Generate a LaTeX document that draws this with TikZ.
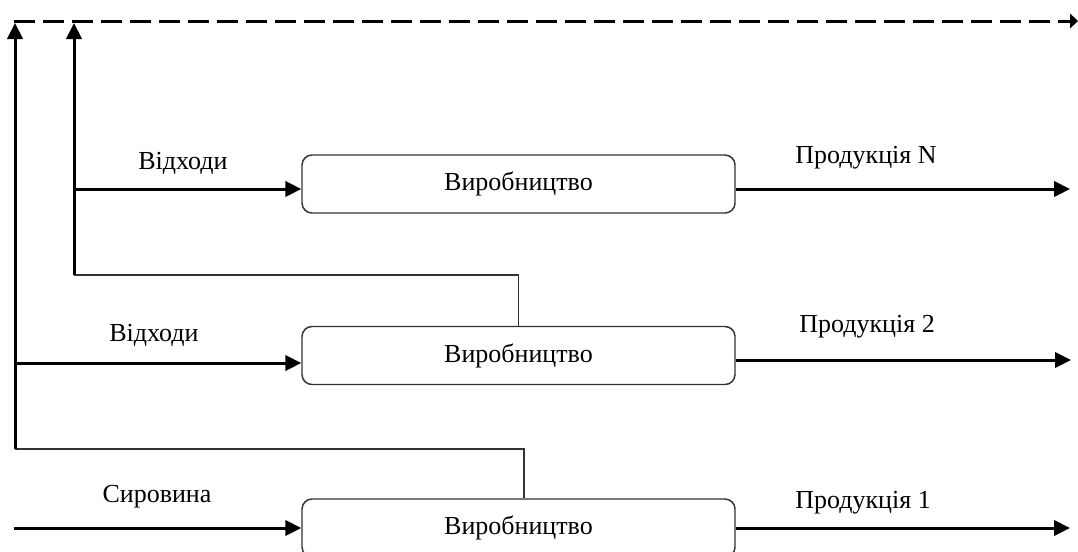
\documentclass[tikz,border=0pt]{standalone}
\usepackage{fontspec}
\setmainfont{Liberation Serif}
\usetikzlibrary{arrows.meta}
\begin{document}
\begin{tikzpicture}[x=0.75pt,y=-0.75pt,
  stage/.style={draw=black!80,line width=1.1pt,rounded corners=7.5pt,
    minimum width=324.75pt,minimum height=43.5pt,inner sep=0pt,
    font=\fontsize{19.5}{23}\selectfont},
  lbl/.style={font=\fontsize{19.5}{23}\selectfont,inner sep=0pt},
  flow/.style={line width=2.25pt,-{Triangle[length=12pt,width=11.5pt]}},
  thin line/.style={line width=1.1pt,draw=black!80},
  waste/.style={line width=2.25pt,dash pattern=on 15.75pt off 6pt,-{Triangle[length=6pt,width=11pt]}}]
\useasboundingbox (0,0) rectangle (1078,551);

% stages
\node[stage] (b1) at (518.5,184) {Виробництво};
\node[stage] (b2) at (518.5,355.5) {Виробництво};
\node[stage] (b3) at (518.5,528) {Виробництво};

% free ends
\coordinate (in3) at (14,528);
\coordinate (o3) at (1070,528);
\coordinate (o2) at (1071,360);
\coordinate (o1) at (1070,189);
\coordinate (h3) at (15,449);
\coordinate (t3) at (15,23);
\coordinate (r2) at (15,363);
\coordinate (h2) at (74,275);
\coordinate (t2) at (74,23);
\coordinate (r1) at (74,189);
\coordinate (d0) at (14,21);
\coordinate (d1) at (1078,21);

% top dashed line
\draw[waste] (d0) -- (d1);

% stage 1
\draw[flow] (in3) -- (b3.west);
\draw[flow] (b3.east) -- (o3);
\node[lbl] at (157,497) {Сировина};
\node[lbl] at (863,503) {Продукція 1};
\draw[thin line] ([xshift=4.1pt]b3.north) -- ([xshift=4.1pt]b3.north |- h3) -- (h3);
\draw[flow] (h3) -- (t3);
\draw[flow] (r2) -- (r2 -| b2.west);

% stage 2
\draw[flow] (b2.east |- o2) -- (o2);
\node[lbl] at (154,335) {Відходи};
\node[lbl] at (867,327) {Продукція 2};
\draw[thin line] (b2.north) -- (b2.north |- h2) -- (h2);
\draw[flow] (h2) -- (t2);
\draw[flow] (r1) -- (r1 -| b1.west);

% stage N
\draw[flow] (b1.east |- o1) -- (o1);
\node[lbl] at (183,163) {Відходи};
\node[lbl] at (866,158) {Продукція N};
\end{tikzpicture}
\end{document}
